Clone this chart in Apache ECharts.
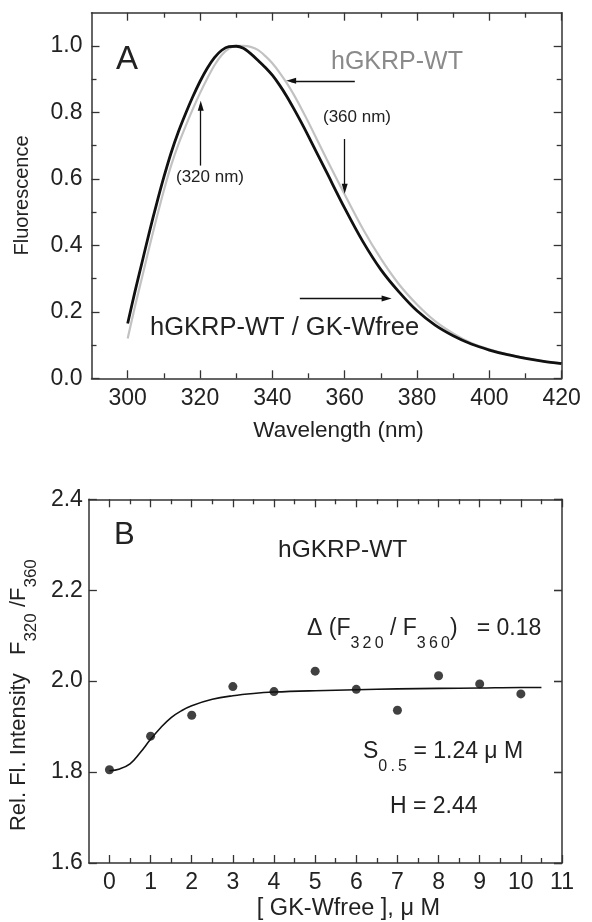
<!DOCTYPE html>
<html><head><meta charset="utf-8">
<script src="https://cdn.jsdelivr.net/npm/echarts@6/dist/echarts.min.js"></script>
<style>html,body{margin:0;padding:0;background:#fff}#c{width:592px;height:922px}</style>
</head><body><div id="c"></div>
<script>
// ---- Panel A data ----
const wlBlack = [300,302,304,306,308,310,312,314,316,318,320,322,324,326,328,330,332,334,336,338,340,342,344,346,348,350,355,360,365,370,375,380,385,390,395,400,405,410,415,420];
const flBlack = [0.165,0.26,0.35,0.44,0.525,0.605,0.678,0.741,0.796,0.847,0.893,0.933,0.965,0.987,0.998,0.999,0.993,0.977,0.957,0.936,0.912,0.882,0.848,0.81,0.77,0.728,0.62,0.512,0.412,0.327,0.26,0.203,0.16,0.128,0.103,0.085,0.071,0.06,0.051,0.044];
const wlGray = [300,302,304,306,308,310,312,314,316,318,320,322,324,326,328,330,332,334,336,338,340,342,344,346,348,350,355,360,365,370,375,380,385,390,395,400,405,410,415,420];
const flGray = [0.12,0.215,0.305,0.395,0.482,0.565,0.64,0.703,0.758,0.81,0.858,0.902,0.942,0.973,0.992,1.0,1.0,0.997,0.988,0.97,0.948,0.92,0.888,0.852,0.812,0.77,0.66,0.553,0.45,0.36,0.283,0.222,0.172,0.135,0.106,0.087,0.072,0.061,0.051,0.043];
const xTicksA = [300,320,340,360,380,400,420];
const xMinorA = [310,330,350,370,390,410];
const yTicksA = [0,0.2,0.4,0.6,0.8,1.0];
const yMinorA = [0.1,0.3,0.5,0.7,0.9];

// ---- Panel B data ----
const concB = [0,1,2,3,4,5,6,7,8,9,10];
const ratioB = [1.805,1.879,1.925,1.988,1.977,2.022,1.982,1.936,2.012,1.994,1.972];
const fitX = [0,0.25,0.5,0.75,1,1.25,1.5,1.75,2,2.5,3,3.5,4,5,6,7,8,9,10,10.5];
const fitY = [1.803,1.807,1.818,1.843,1.872,1.898,1.92,1.935,1.946,1.96,1.968,1.973,1.976,1.979,1.981,1.983,1.984,1.985,1.986,1.986];
const xTicksB = [0,1,2,3,4,5,6,7,8,9,10,11];
const xMinorB = [0.5,1.5,2.5,3.5,4.5,5.5,6.5,7.5,8.5,9.5,10.5];
const yTicksB = [1.6,1.8,2.0,2.2,2.4];

const FONT = '"Liberation Sans", Arial, sans-serif';
const AX = '#333';
const TXT = '#222';
const TS = '\u2009';

function mkAxis(g, pos, min, max, vals, len, withLine, extra) {
  return Object.assign({
    type: 'value', gridIndex: g, position: pos, min: min, max: max,
    axisLine: { show: withLine, onZero: false, lineStyle: { color: AX, width: 1.5 } },
    axisTick: { show: true, inside: true, length: len, customValues: vals, lineStyle: { color: AX, width: 1.3 } },
    axisLabel: { show: false },
    splitLine: { show: false }
  }, extra || {});
}
function lbl(vals, margin, fmt) {
  return { axisLabel: { show: true, customValues: vals, margin: margin, fontSize: 23, fontFamily: FONT, color: TXT, formatter: fmt } };
}

const xAxes = [
  mkAxis(0, 'bottom', 290, 420, xTicksA, 8, true, Object.assign(lbl(xTicksA, 9, v => String(v)), {
    name: 'Wavelength (nm)', nameLocation: 'middle', nameGap: 41,
    nameTextStyle: { fontSize: 22.5, fontFamily: FONT, color: TXT, padding: [0, 0, 0, 24] } })),
  mkAxis(0, 'bottom', 290, 420, xMinorA, 5, false),
  mkAxis(0, 'top', 290, 420, xTicksA, 8, true),
  mkAxis(0, 'top', 290, 420, xMinorA, 5, false),
  mkAxis(1, 'bottom', -0.5, 11, xTicksB, 8, true, Object.assign(lbl(xTicksB, 8, v => String(v)), {
    name: '[ GK-Wfree ], \u03bc M', nameLocation: 'middle', nameGap: 34,
    nameTextStyle: { fontSize: 23.5, fontFamily: FONT, color: TXT, padding: [0, 0, 0, 46] } })),
  mkAxis(1, 'bottom', -0.5, 11, xMinorB, 5, false),
  mkAxis(1, 'top', -0.5, 11, xTicksB, 8, true),
  mkAxis(1, 'top', -0.5, 11, xMinorB, 5, false)
];
const yAxes = [
  mkAxis(0, 'left', 0, 1.1, yTicksA, 8, true, Object.assign(lbl(yTicksA, 9, v => v.toFixed(1)), {
    name: 'Fluorescence', nameLocation: 'middle', nameGap: 59, nameRotate: 90,
    nameTextStyle: { fontSize: 20, fontFamily: FONT, color: TXT } })),
  mkAxis(0, 'left', 0, 1.1, yMinorA, 5, false),
  mkAxis(0, 'right', 0, 1.1, yTicksA, 8, true),
  mkAxis(0, 'right', 0, 1.1, yMinorA, 5, false),
  mkAxis(1, 'left', 1.6, 2.4, yTicksB, 8, true, Object.assign(lbl(yTicksB, 6, v => v.toFixed(1)), {
    name: '{m|Rel. Fl. Intensity   F}{s|320}{m| /F}{s|360}', nameLocation: 'middle', nameGap: 49, nameRotate: 90,
    nameTextStyle: { fontSize: 22, fontFamily: FONT, color: TXT, padding: [0, 28, 0, 0],
      rich: {
        m: { fontSize: 22, fontFamily: FONT, color: TXT, lineHeight: 26, verticalAlign: 'top' },
        s: { fontSize: 17, fontFamily: FONT, color: TXT, lineHeight: 19, verticalAlign: 'top', padding: [15, 0, 0, 0] }
      } } })),
  mkAxis(1, 'right', 1.6, 2.4, yTicksB, 8, true),
  mkAxis(1, 'right', 1.6, 2.4, yTicksB, 8, false)
];

const richSub = {
  m: { fontSize: 23, fontFamily: FONT, fill: TXT, lineHeight: 26, verticalAlign: 'top' },
  s: { fontSize: 16, fontFamily: FONT, fill: TXT, lineHeight: 18, verticalAlign: 'top', padding: [19, 0, 0, 0] }
};

function txt(x, y, s, size, color) {
  return { type: 'text', x: x, y: y, silent: true,
    style: { text: s, fontSize: size, fontFamily: FONT, fill: color || TXT, align: 'left', verticalAlign: 'middle' } };
}

const arrowStyle = { color: '#111', width: 1.3, type: 'solid' };

const option = {
  animation: false,
  backgroundColor: '#fff',
  grid: [
    { left: 91.5, top: 12.7, width: 470.2, height: 365.6 },
    { left: 88.4, top: 499.3, width: 473.6, height: 364.7 }
  ],
  xAxis: xAxes,
  yAxis: yAxes,
  series: [
    { type: 'line', xAxisIndex: 0, yAxisIndex: 0, data: wlGray.map((w, i) => [w, flGray[i]]),
      smooth: 0.3, showSymbol: false, lineStyle: { color: '#c2c2c2', width: 2.2 }, z: 2 },
    { type: 'line', xAxisIndex: 0, yAxisIndex: 0, data: wlBlack.map((w, i) => [w, flBlack[i]]),
      smooth: 0.3, showSymbol: false, lineStyle: { color: '#111', width: 2.8 }, z: 3 },
    { type: 'line', xAxisIndex: 0, yAxisIndex: 0, data: [], z: 4,
      markLine: { silent: true, animation: false, symbol: ['none', 'triangle'], symbolSize: [6, 10],
        lineStyle: arrowStyle, label: { show: false },
        data: [
          [{ coord: [362.8, 0.895] }, { coord: [345.2, 0.895] }],
          [{ coord: [360, 0.72] }, { coord: [360, 0.57] }],
          [{ coord: [320.2, 0.64] }, { coord: [320.2, 0.82] }],
          [{ coord: [347.6, 0.24] }, { coord: [371.6, 0.24] }]
        ] } },
    { type: 'line', xAxisIndex: 4, yAxisIndex: 4, data: fitX.map((x, i) => [x, fitY[i]]),
      smooth: 0.4, showSymbol: false, lineStyle: { color: '#111', width: 1.6 }, z: 2 },
    { type: 'scatter', xAxisIndex: 4, yAxisIndex: 4, data: concB.map((x, i) => [x, ratioB[i]]),
      symbol: 'circle', symbolSize: 9, itemStyle: { color: '#111' }, z: 3 }
  ],
  graphic: [
    txt(116, 60, 'A', 33),
    txt(331, 62, 'hGKRP-WT', 25, '#8a8a8a'),
    txt(323, 117, '(360 nm)', 17),
    txt(176, 177, '(320 nm)', 17),
    txt(150, 328, 'hGKRP-WT / GK-Wfree', 25.5),
    txt(114, 535, 'B', 31),
    txt(278, 550, 'hGKRP-WT', 24.5),
    { type: 'text', x: 307, y: 617, silent: true,
      style: { text: '{m|\u0394 (F}{s|3' + TS + '2' + TS + '0}{m| / F}{s|3' + TS + '6' + TS + '0}{m|)   = 0.18}', rich: richSub, align: 'left', verticalAlign: 'top' } },
    { type: 'text', x: 363, y: 740, silent: true,
      style: { text: '{m|S}{s|0' + TS + '.' + TS + '5}{m| = 1.24 \u03bc M}', rich: richSub, align: 'left', verticalAlign: 'top' } },
    txt(390, 807, 'H = 2.44', 23)
  ]
};

const chart = echarts.init(document.getElementById('c'), null, { renderer: 'canvas' });
chart.setOption(option);
</script>
</body></html>
